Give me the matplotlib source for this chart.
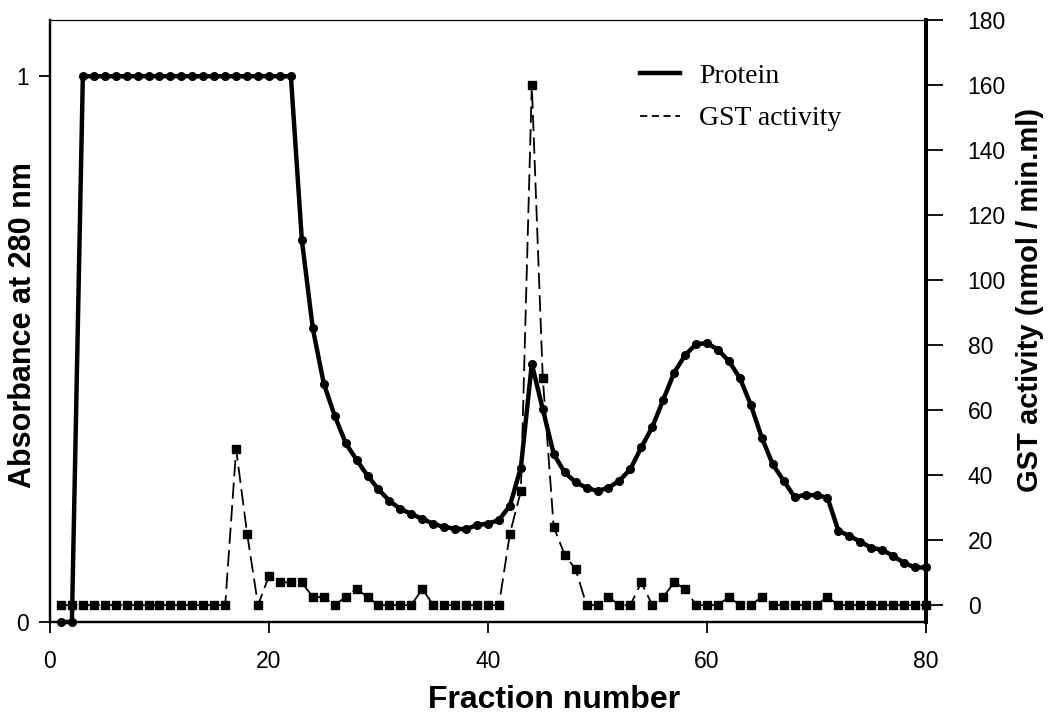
'''
Gel filtration profile: protein (A280) and GST activity per fraction.
'''
import numpy as np
import matplotlib
matplotlib.use('Agg')
import matplotlib.pyplot as plt
from matplotlib.lines import Line2D
from matplotlib.ticker import MultipleLocator, FixedLocator

# fraction numbers 1..80
fraction = list(range(1, 81))

# absorbance at 280 nm (left axis)
protein = [0, 0] + [1.0] * 20 + [
    0.70, 0.538, 0.437, 0.378, 0.328, 0.297, 0.268, 0.243, 0.222, 0.207,   # 23-32
    0.198, 0.189, 0.180, 0.174, 0.171, 0.170, 0.178, 0.180, 0.187, 0.213,  # 33-42
    0.283, 0.473, 0.390, 0.308, 0.274, 0.256, 0.246, 0.240, 0.246, 0.259,  # 43-52
    0.280, 0.320, 0.357, 0.407, 0.457, 0.489, 0.509, 0.511, 0.499, 0.478,  # 53-62
    0.447, 0.398, 0.338, 0.289, 0.259, 0.229, 0.233, 0.232, 0.228, 0.167,  # 63-72
    0.158, 0.147, 0.136, 0.132, 0.121, 0.108, 0.100, 0.100]                # 73-80

# GST activity, nmol / min.ml (right axis)
gst = [0] * 16 + [
    48, 22, 0, 9, 7, 7, 7, 2.5, 2.5, 0,        # 17-26
    2.5, 5, 2.5, 0, 0, 0, 0, 5, 0, 0,          # 27-36
    0, 0, 0, 0, 0, 22, 35, 160, 70, 24,        # 37-46
    15.5, 11, 0, 0, 2.5, 0, 0, 7, 0, 2.5,      # 47-56
    7, 5, 0, 0, 0, 2.5, 0, 0, 2.5, 0,          # 57-66
    0, 0, 0, 0, 2.5, 0, 0, 0, 0, 0,            # 67-76
    0, 0, 0, 0]                                # 77-80

sans = 'Liberation Sans'
serif = 'Liberation Serif'
plt.rcParams['font.family'] = sans

fig = plt.figure(figsize=(10.48, 7.2), dpi=100)
ax = fig.add_axes([0.0477, 0.1361, 0.8359, 0.8361])
ax2 = ax.twinx()

# protein: thick line with small circles
ax.plot(fraction, protein, color='k', lw=3.2, marker='o', ms=5.5,
        solid_joinstyle='round', zorder=3, clip_on=False)
# GST: thin dashed line with squares
ax2.plot(fraction, gst, color='k', lw=1.3, ls=(0, (9, 3.5)), marker='s', ms=5.5,
         zorder=4, clip_on=False)

ax.set_xlim(0, 80)
ax.set_ylim(0, 1.103)
ax2.set_ylim(-5.2, 180)

ax.xaxis.set_major_locator(MultipleLocator(20))
ax.yaxis.set_major_locator(FixedLocator([0, 1]))
ax2.yaxis.set_major_locator(MultipleLocator(20))

ax.tick_params(axis='x', direction='out', length=8, width=1.3, pad=12, labelsize=16.5)
ax.tick_params(axis='y', direction='out', length=8, width=1.3, pad=7, labelsize=16.5)
ax2.tick_params(axis='y', direction='out', length=12, width=1.3, pad=18, labelsize=16.5)

for a in (ax, ax2):
    a.spines['top'].set_linewidth(0.8)
    a.spines['left'].set_linewidth(1.6)
    a.spines['bottom'].set_linewidth(1.6)
    a.spines['right'].set_linewidth(2.8)
ax2.set_zorder(ax.get_zorder() + 1)
ax2.patch.set_visible(False)

# axis titles
fig.text(23 / 1048, 1 - 325 / 720, 'Absorbance at 280 nm', rotation=90,
         ha='center', va='center', fontsize=22, fontweight='bold', family=sans)
fig.text(1030 / 1048, 1 - 300 / 720, 'GST activity (nmol / min.ml)', rotation=90,
         ha='center', va='center', fontsize=21, fontweight='bold', family=sans)
fig.text(554 / 1048, 1 - 700 / 720, 'Fraction number',
         ha='center', va='center', fontsize=23, fontweight='bold', family=sans)

# legend
handles = [Line2D([], [], color='k', lw=3.2),
           Line2D([], [], color='k', lw=1.3, ls=(0, (4, 2.5)))]
ax2.legend(handles, ['Protein', 'GST activity'], loc='upper left',
           bbox_to_anchor=(0.673, 0.928), frameon=False, borderpad=0,
           borderaxespad=0, handlelength=1.45, handletextpad=0.7,
           labelspacing=0.62, prop={'family': serif, 'size': 20})

fig.savefig('out.png', dpi=100)
